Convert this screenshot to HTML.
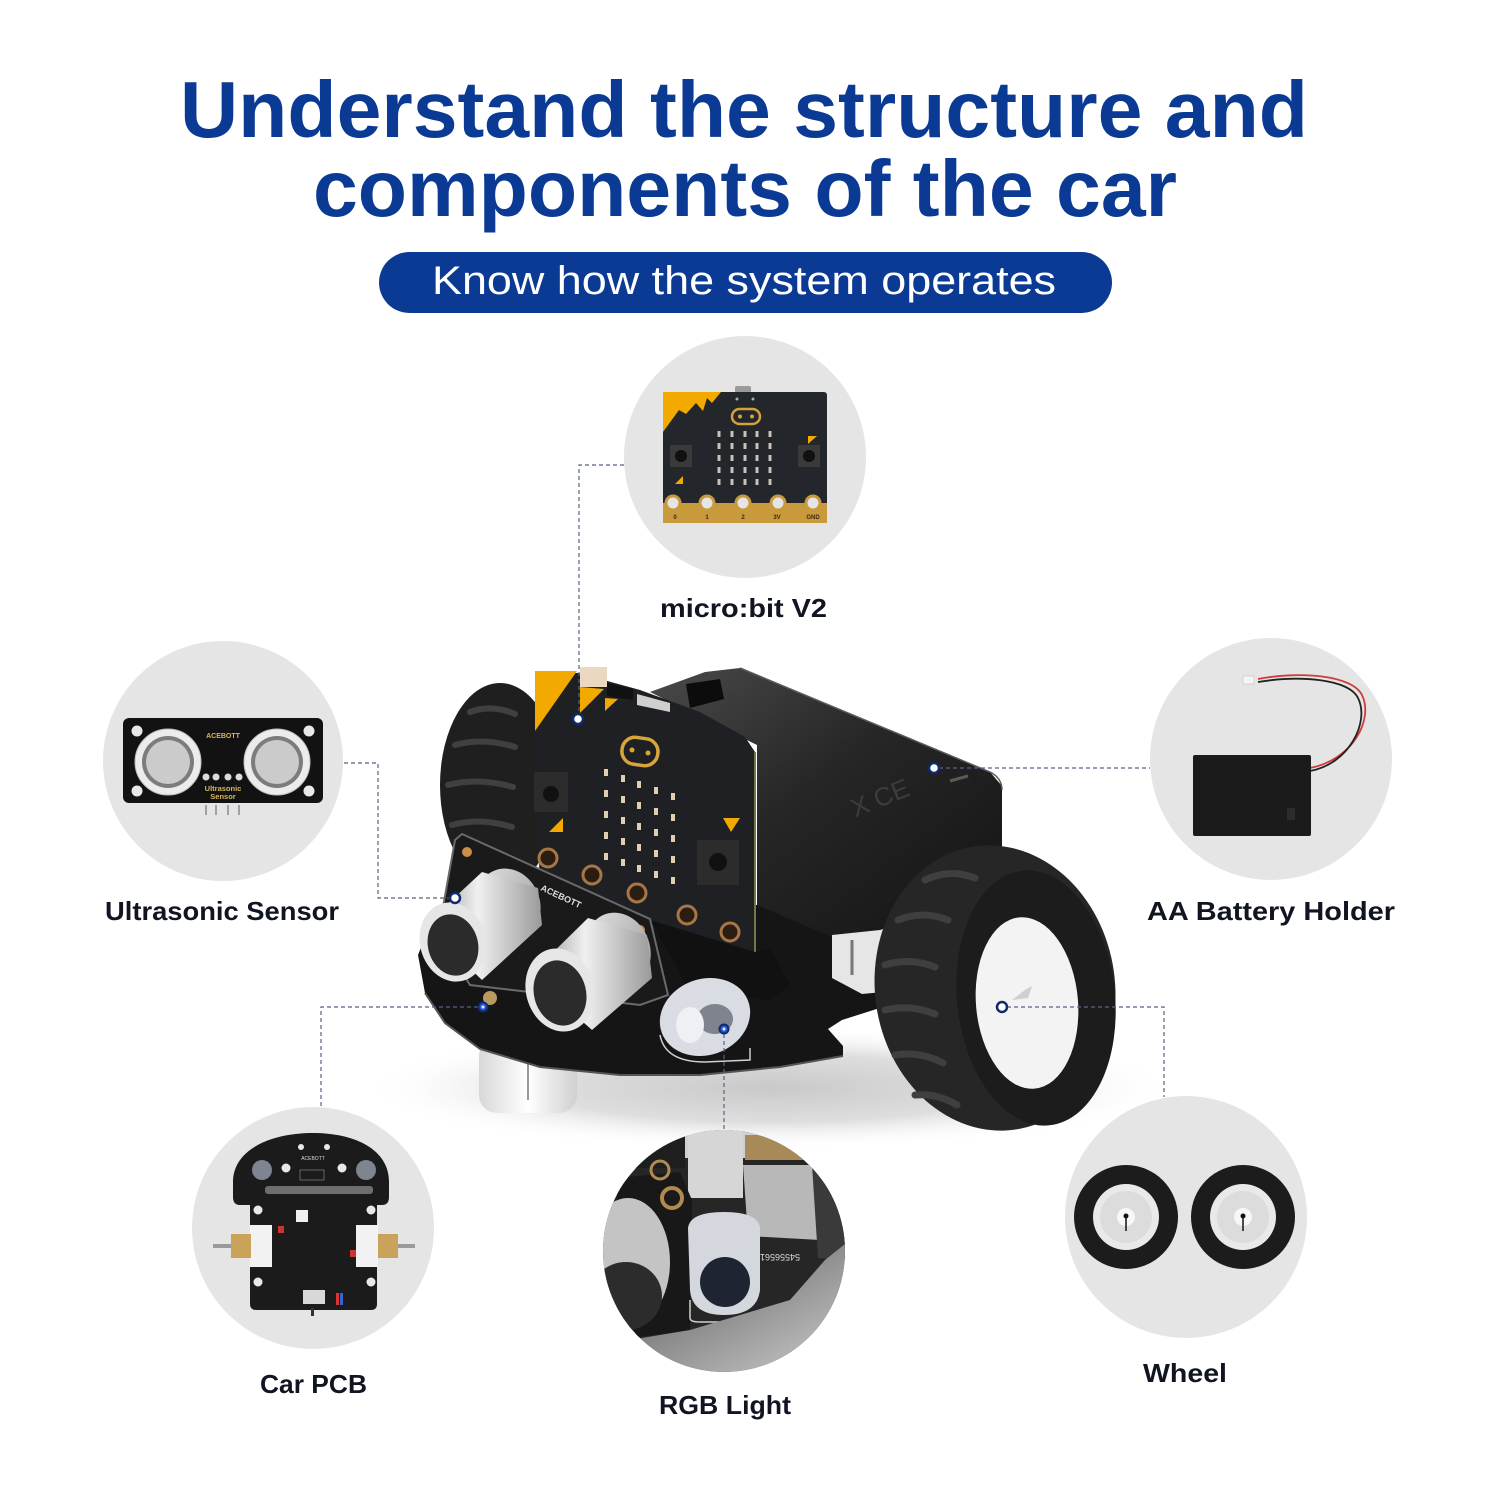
<!DOCTYPE html>
<html>
<head>
<meta charset="utf-8">
<style>
  html,body{margin:0;padding:0;background:#fff;}
  svg{display:block;}
  .lbl{font-family:"Liberation Sans",sans-serif;font-weight:bold;fill:#111522;}
</style>
</head>
<body>
<svg width="1500" height="1500" viewBox="0 0 1500 1500" xmlns="http://www.w3.org/2000/svg">
<defs>
  <radialGradient id="sh" cx="50%" cy="50%" r="50%">
    <stop offset="0" stop-color="#c9c9c9"/>
    <stop offset="0.55" stop-color="#dedede"/>
    <stop offset="1" stop-color="#ffffff" stop-opacity="0"/>
  </radialGradient>
  <linearGradient id="bat" x1="0" y1="0" x2="1" y2="1">
    <stop offset="0" stop-color="#4a4a4a"/>
    <stop offset="0.45" stop-color="#262626"/>
    <stop offset="1" stop-color="#141414"/>
  </linearGradient>
  <linearGradient id="silver" x1="0" y1="0" x2="1" y2="0">
    <stop offset="0" stop-color="#8a8a8a"/>
    <stop offset="0.45" stop-color="#f0f0f0"/>
    <stop offset="1" stop-color="#9a9a9a"/>
  </linearGradient>
  <linearGradient id="silver2" x1="0" y1="0" x2="1" y2="1">
    <stop offset="0" stop-color="#e8e8e8"/>
    <stop offset="1" stop-color="#9c9c9c"/>
  </linearGradient>
  <linearGradient id="caster" x1="0" y1="0" x2="1" y2="0">
    <stop offset="0" stop-color="#d8d8d8"/>
    <stop offset="0.5" stop-color="#ffffff"/>
    <stop offset="1" stop-color="#d0d0d0"/>
  </linearGradient>
  <linearGradient id="rgbbot" x1="0" y1="0" x2="1" y2="1">
    <stop offset="0" stop-color="#4a4a4a"/>
    <stop offset="1" stop-color="#d0d0d0"/>
  </linearGradient>
  <clipPath id="rgbclip"><circle cx="724" cy="1251" r="121"/></clipPath>
</defs>

<rect width="1500" height="1500" fill="#ffffff"/>

<!-- Title -->
<text x="180" y="137" textLength="1128" lengthAdjust="spacingAndGlyphs" font-family="'Liberation Sans',sans-serif" font-weight="bold" font-size="80" fill="#0b3a95">Understand the structure and</text>
<text x="313" y="216" textLength="864" lengthAdjust="spacingAndGlyphs" font-family="'Liberation Sans',sans-serif" font-weight="bold" font-size="80" fill="#0b3a95">components of the car</text>

<!-- Pill -->
<rect x="379" y="252" width="733" height="61" rx="30.5" fill="#0a3a93"/>
<text x="432" y="294" textLength="624" lengthAdjust="spacingAndGlyphs" font-family="'Liberation Sans',sans-serif" font-size="40" fill="#ffffff">Know how the system operates</text>

<!-- Main car shadow (under everything) -->
<ellipse cx="770" cy="1088" rx="410" ry="62" fill="url(#sh)"/>

<!-- Gray circles -->
<circle cx="745" cy="457" r="121" fill="#e5e5e5"/>
<circle cx="223" cy="761" r="120" fill="#e5e5e5"/>
<circle cx="1271" cy="759" r="121" fill="#e5e5e5"/>
<circle cx="313" cy="1228" r="121" fill="#e5e5e5"/>
<circle cx="1186" cy="1217" r="121" fill="#e5e5e5"/>

<!-- ===== micro:bit card ===== -->
<rect x="735" y="386" width="16" height="7" rx="2" fill="#9a9a9a"/>
<rect x="663" y="392" width="164" height="131" rx="3" fill="#23262b"/>
<polygon points="663,392 721,392 712,403 707,398 703,411 696,403 686,414 679,410 663,432" fill="#f2a900"/>
<rect x="732" y="409" width="28" height="15" rx="7.5" fill="none" stroke="#d4a23a" stroke-width="2.5"/>
<circle cx="740" cy="416.5" r="2" fill="#d4a23a"/><circle cx="752" cy="416.5" r="2" fill="#d4a23a"/>
<circle cx="737" cy="399" r="1.5" fill="#aaa"/><circle cx="753" cy="399" r="1.5" fill="#aaa"/>
<g fill="#c8c2b8">
  <rect x="717.5" y="431" width="3" height="6"/><rect x="730.5" y="431" width="3" height="6"/><rect x="743.5" y="431" width="3" height="6"/><rect x="755.5" y="431" width="3" height="6"/><rect x="768.5" y="431" width="3" height="6"/>
  <rect x="717.5" y="443" width="3" height="6"/><rect x="730.5" y="443" width="3" height="6"/><rect x="743.5" y="443" width="3" height="6"/><rect x="755.5" y="443" width="3" height="6"/><rect x="768.5" y="443" width="3" height="6"/>
  <rect x="717.5" y="455" width="3" height="6"/><rect x="730.5" y="455" width="3" height="6"/><rect x="743.5" y="455" width="3" height="6"/><rect x="755.5" y="455" width="3" height="6"/><rect x="768.5" y="455" width="3" height="6"/>
  <rect x="717.5" y="467" width="3" height="6"/><rect x="730.5" y="467" width="3" height="6"/><rect x="743.5" y="467" width="3" height="6"/><rect x="755.5" y="467" width="3" height="6"/><rect x="768.5" y="467" width="3" height="6"/>
  <rect x="717.5" y="479" width="3" height="6"/><rect x="730.5" y="479" width="3" height="6"/><rect x="743.5" y="479" width="3" height="6"/><rect x="755.5" y="479" width="3" height="6"/><rect x="768.5" y="479" width="3" height="6"/>
</g>
<rect x="670" y="445" width="22" height="22" fill="#3a3a3a"/><circle cx="681" cy="456" r="6" fill="#111"/>
<rect x="798" y="445" width="22" height="22" fill="#3a3a3a"/><circle cx="809" cy="456" r="6" fill="#111"/>
<polygon points="675,484 683,476 683,484" fill="#f2a900"/>
<polygon points="808,436 817,436 808,444" fill="#f2a900"/>
<rect x="663" y="503" width="164" height="20" fill="#c99a3c"/>
<g fill="#e5e5e5" stroke="#c99a3c" stroke-width="3">
  <circle cx="673" cy="503" r="7"/><circle cx="707" cy="503" r="7"/><circle cx="743" cy="503" r="7"/><circle cx="778" cy="503" r="7"/><circle cx="813" cy="503" r="7"/>
</g>
<g font-family="'Liberation Sans',sans-serif" font-size="6" font-weight="bold" fill="#3a2a10" text-anchor="middle">
  <text x="675" y="519">0</text><text x="707" y="519">1</text><text x="743" y="519">2</text><text x="777" y="519">3V</text><text x="813" y="519">GND</text>
</g>

<!-- ===== Ultrasonic card ===== -->
<rect x="123" y="718" width="200" height="85" rx="6" fill="#121212"/>
<g fill="#e8e8e8"><circle cx="137" cy="731" r="5.5"/><circle cx="309" cy="731" r="5.5"/><circle cx="137" cy="791" r="5.5"/><circle cx="309" cy="791" r="5.5"/></g>
<circle cx="168" cy="762" r="33" fill="#ececec" stroke="#bdbdbd" stroke-width="1"/>
<circle cx="168" cy="762" r="26" fill="#7c7c7c"/>
<circle cx="168" cy="762" r="22" fill="#cbcbcb"/>
<circle cx="277" cy="762" r="33" fill="#ececec" stroke="#bdbdbd" stroke-width="1"/>
<circle cx="277" cy="762" r="26" fill="#7c7c7c"/>
<circle cx="277" cy="762" r="22" fill="#cbcbcb"/>
<g fill="#dcdcdc"><circle cx="206" cy="777" r="3.5"/><circle cx="216" cy="777" r="3.5"/><circle cx="228" cy="777" r="3.5"/><circle cx="239" cy="777" r="3.5"/></g>
<g stroke="#8a8a8a" stroke-width="1.5"><line x1="206" y1="805" x2="206" y2="815"/><line x1="216" y1="805" x2="216" y2="815"/><line x1="228" y1="805" x2="228" y2="815"/><line x1="239" y1="805" x2="239" y2="815"/></g>
<g font-family="'Liberation Sans',sans-serif" font-weight="bold" fill="#d9b55a" text-anchor="middle">
  <text x="223" y="738" font-size="7">ACEBOTT</text>
  <text x="223" y="791" font-size="7.5">Ultrasonic</text>
  <text x="223" y="799" font-size="7.5">Sensor</text>
</g>

<!-- ===== Battery holder card ===== -->
<path d="M1310,768 C1352,760 1374,720 1362,695 C1352,675 1300,671 1258,679" fill="none" stroke="#d33a3a" stroke-width="1.8"/>
<path d="M1310,771 C1349,764 1370,722 1358,698 C1349,679 1300,675 1258,682" fill="none" stroke="#222" stroke-width="1.8"/>
<rect x="1243" y="676" width="11" height="8" fill="#f4f4f4" stroke="#bbb" stroke-width="0.5"/>
<rect x="1193" y="755" width="118" height="81" rx="2" fill="#1b1b1b"/>
<rect x="1287" y="808" width="8" height="12" fill="#2c2c2c"/>

<!-- ===== Car PCB card ===== -->
<line x1="213" y1="1246" x2="232" y2="1246" stroke="#9a9a9a" stroke-width="4"/>
<line x1="396" y1="1246" x2="415" y2="1246" stroke="#9a9a9a" stroke-width="4"/>
<path d="M250,1304 L250,1205 L240,1205 Q233,1205 233,1197 L233,1182 C233,1150 270,1133 313,1133 C356,1133 389,1150 389,1182 L389,1197 Q389,1205 382,1205 L377,1205 L377,1304 Q377,1310 371,1310 L256,1310 Q250,1310 250,1304 Z" fill="#1b1b1b"/>
<rect x="265" y="1186" width="108" height="8" rx="3" fill="#6e6e6e"/>
<circle cx="262" cy="1170" r="10" fill="#7e8490"/>
<circle cx="366" cy="1170" r="10" fill="#7e8490"/>
<g fill="#e8e8e8"><circle cx="286" cy="1168" r="4.5"/><circle cx="342" cy="1168" r="4.5"/><circle cx="258" cy="1210" r="4.5"/><circle cx="371" cy="1210" r="4.5"/><circle cx="258" cy="1282" r="4.5"/><circle cx="371" cy="1282" r="4.5"/><circle cx="301" cy="1147" r="3"/><circle cx="327" cy="1147" r="3"/></g>
<rect x="300" y="1170" width="24" height="10" fill="none" stroke="#666" stroke-width="1"/>
<rect x="296" y="1210" width="12" height="12" fill="#f0f0f0"/>
<rect x="250" y="1225" width="22" height="42" fill="#f2f2f2"/>
<rect x="231" y="1234" width="20" height="24" fill="#c9a35a"/>
<rect x="356" y="1225" width="22" height="42" fill="#f2f2f2"/>
<rect x="378" y="1234" width="20" height="24" fill="#c9a35a"/>
<rect x="278" y="1226" width="6" height="7" fill="#c33"/>
<rect x="350" y="1250" width="6" height="7" fill="#c33"/>
<rect x="303" y="1290" width="22" height="14" fill="#d8d8d8"/>
<rect x="336" y="1293" width="3" height="12" fill="#d33"/><rect x="340" y="1293" width="3" height="12" fill="#36c"/>
<rect x="311" y="1308" width="3" height="8" fill="#333"/>
<text x="313" y="1160" text-anchor="middle" font-family="'Liberation Sans',sans-serif" font-size="5" fill="#ddd">ACEBOTT</text>

<!-- ===== RGB Light card (photo-like) ===== -->
<g clip-path="url(#rgbclip)">
  <rect x="600" y="1128" width="250" height="250" fill="#262626"/>
  <rect x="600" y="1128" width="250" height="30" fill="#d0d0d0"/>
  <rect x="600" y="1128" width="85" height="40" fill="#1e1e1e"/>
  <rect x="688" y="1130" width="55" height="68" fill="#d6d6d6"/>
  <rect x="745" y="1135" width="60" height="25" fill="#a88a58"/>
  <polygon points="743,1165 812,1165 820,1240 748,1236" fill="#b8b8b8"/>
  <polygon points="812,1165 850,1165 850,1260 818,1258" fill="#3a3a3a"/>
  <polygon points="617,1178 680,1172 692,1200 690,1330 617,1340" fill="#181818"/>
  <circle cx="672" cy="1198" r="10" fill="#1a1a1a" stroke="#b08a50" stroke-width="4"/>
  <circle cx="660" cy="1170" r="9" fill="none" stroke="#b08a50" stroke-width="3"/>
  <ellipse cx="628" cy="1262" rx="42" ry="64" fill="#c4c4c4"/>
  <ellipse cx="626" cy="1296" rx="36" ry="34" fill="#2c2c2c"/>
  <path d="M688,1228 Q690,1212 724,1212 Q758,1212 760,1228 L760,1290 Q757,1315 724,1315 Q692,1315 690,1290 Z" fill="#d4d8de"/>
  <ellipse cx="725" cy="1282" rx="25" ry="25" fill="#1f2433"/>
  <path d="M690,1300 L690,1318 Q690,1322 700,1322 L770,1322" fill="none" stroke="#cfcfcf" stroke-width="1.5"/>
  <polygon points="600,1345 690,1330 790,1300 825,1260 850,1240 850,1380 600,1380" fill="url(#rgbbot)"/>
  <text x="780" y="1262" font-family="'Liberation Sans',sans-serif" font-size="9" fill="#ddd" transform="rotate(180 790 1258)">54556561</text>
</g>

<!-- ===== Wheel card ===== -->
<g>
  <circle cx="1126" cy="1217" r="52" fill="#1c1c1c"/>
  <circle cx="1126" cy="1217" r="33" fill="#e9e9e9"/>
  <circle cx="1126" cy="1217" r="26" fill="#dcdcdc"/>
  <circle cx="1126" cy="1217" r="9" fill="#f7f7f7"/>
  <circle cx="1126" cy="1216" r="2.5" fill="#111"/>
  <line x1="1126" y1="1217" x2="1126" y2="1231" stroke="#111" stroke-width="1.5"/>
  <circle cx="1243" cy="1217" r="52" fill="#1c1c1c"/>
  <circle cx="1243" cy="1217" r="33" fill="#e9e9e9"/>
  <circle cx="1243" cy="1217" r="26" fill="#dcdcdc"/>
  <circle cx="1243" cy="1217" r="9" fill="#f7f7f7"/>
  <circle cx="1243" cy="1216" r="2.5" fill="#111"/>
  <line x1="1243" y1="1217" x2="1243" y2="1231" stroke="#111" stroke-width="1.5"/>
</g>

<!-- ===== Main car ===== -->
<!-- caster -->
<rect x="479" y="1038" width="98" height="75" rx="18" fill="url(#caster)"/>
<line x1="528" y1="1050" x2="528" y2="1100" stroke="#9a9a9a" stroke-width="2"/>
<!-- left rear tire -->
<ellipse cx="500" cy="785" rx="60" ry="102" fill="#1f1f1f"/>
<g fill="none" stroke="#404040" stroke-width="6" stroke-linecap="round">
  <path d="M470,712 q22,-8 45,2"/>
  <path d="M455,745 q28,-8 60,2"/>
  <path d="M448,785 q30,-8 65,2"/>
  <path d="M452,825 q28,-8 60,2"/>
  <path d="M465,858 q22,-6 45,2"/>
</g>
<!-- base plate -->
<polygon points="418,955 430,925 470,905 760,905 900,945 905,1000 842,1020 828,1029 843,1046 843,1056 780,1067 700,1075 620,1075 540,1067 480,1049 445,1023 425,993" fill="#151515"/>
<path d="M425,993 L445,1023 480,1049 540,1067 620,1075 700,1075 780,1067 843,1056" fill="none" stroke="#555" stroke-width="2"/>
<!-- battery box -->
<polygon points="650,692 705,672 740,668 990,772 1002,786 1002,905 985,916 900,935 830,936 757,905 757,745" fill="url(#bat)"/>
<path d="M740,668 L990,772 Q1002,778 1002,790" fill="none" stroke="#5a5a5a" stroke-width="1.5"/>
<polygon points="686,684 720,679 724,699 690,708" fill="#0c0c0c"/>
<line x1="950" y1="781" x2="968" y2="776" stroke="#5a5a5a" stroke-width="3"/>
<text x="852" y="815" font-family="'Liberation Sans',sans-serif" font-size="26" fill="#3c3c3c" transform="rotate(-22 860 808)">X CE</text>
<!-- micro:bit board on car -->
<polygon points="535,671 578,673 640,690 700,712 745,737 755,752 755,952 540,905" fill="#1e2024"/>
<line x1="755" y1="752" x2="755" y2="952" stroke="#6b7a48" stroke-width="2"/>
<polygon points="535,671 577,671 535,731" fill="#f2a900"/>
<polygon points="580,687 604,689 580,713" fill="#f2a900"/>
<polygon points="605,698 618,699 605,711" fill="#f2a900"/>
<rect x="580" y="667" width="27" height="20" fill="#ead9c0"/>
<polygon points="607,683 633,689 633,700 607,696" fill="#111"/>
<polygon points="637,694 670,703 670,712 637,705" fill="#cfcfcf"/>
<rect x="622" y="738" width="36" height="27" rx="13" fill="none" stroke="#d9a53a" stroke-width="3.5" transform="rotate(8 640 751)"/>
<circle cx="632" cy="750" r="2.5" fill="#d9a53a"/><circle cx="648" cy="753" r="2.5" fill="#d9a53a"/>
<g fill="#e0cfae">
  <rect x="604" y="769" width="4" height="7"/><rect x="604" y="790" width="4" height="7"/><rect x="604" y="811" width="4" height="7"/><rect x="604" y="832" width="4" height="7"/><rect x="604" y="853" width="4" height="7"/>
  <rect x="621" y="775" width="4" height="7"/><rect x="621" y="796" width="4" height="7"/><rect x="621" y="817" width="4" height="7"/><rect x="621" y="838" width="4" height="7"/><rect x="621" y="859" width="4" height="7"/>
  <rect x="637" y="781" width="4" height="7"/><rect x="637" y="802" width="4" height="7"/><rect x="637" y="823" width="4" height="7"/><rect x="637" y="844" width="4" height="7"/><rect x="637" y="865" width="4" height="7"/>
  <rect x="654" y="787" width="4" height="7"/><rect x="654" y="808" width="4" height="7"/><rect x="654" y="829" width="4" height="7"/><rect x="654" y="850" width="4" height="7"/><rect x="654" y="871" width="4" height="7"/>
  <rect x="671" y="793" width="4" height="7"/><rect x="671" y="814" width="4" height="7"/><rect x="671" y="835" width="4" height="7"/><rect x="671" y="856" width="4" height="7"/><rect x="671" y="877" width="4" height="7"/>
</g>
<rect x="534" y="772" width="34" height="40" fill="#2c2c2c"/><circle cx="551" cy="794" r="8" fill="#111"/>
<rect x="697" y="840" width="42" height="45" fill="#2c2c2c"/><circle cx="718" cy="862" r="9" fill="#111"/>
<polygon points="549,832 563,832 563,818" fill="#f2a900"/>
<polygon points="723,818 740,818 731,832" fill="#f2a900"/>
<g fill="#2a1d12" stroke="#a87646" stroke-width="3">
  <circle cx="548" cy="858" r="9"/><circle cx="592" cy="875" r="9"/><circle cx="637" cy="893" r="9"/><circle cx="687" cy="915" r="9"/><circle cx="730" cy="932" r="9"/>
</g>
<!-- black block under board -->
<polygon points="650,920 755,952 770,948 790,985 770,1000 690,990" fill="#111"/>
<!-- white motor mount -->
<polygon points="832,935 880,930 905,922 905,990 862,994 832,978" fill="#e6e6e6"/>
<line x1="852" y1="940" x2="852" y2="975" stroke="#777" stroke-width="3"/>
<!-- ultrasonic front board -->
<polygon points="455,840 462,834 650,919 668,995 640,1005 470,985 438,935" fill="#1a1a1a" stroke="#6a6a6a" stroke-width="2"/>
<circle cx="467" cy="852" r="5" fill="#c9904a"/><circle cx="640" cy="930" r="5" fill="#c9904a"/>
<text x="540" y="890" font-family="'Liberation Sans',sans-serif" font-size="9" font-weight="bold" fill="#ddd" transform="rotate(25 540 890)">ACEBOTT</text>
<!-- cylinder 1 -->
<ellipse cx="508" cy="905" rx="32" ry="37" fill="url(#silver2)" transform="rotate(-20 508 905)"/>
<polygon points="425,925 482,872 538,888 542,925 482,980" fill="url(#silver)"/>
<ellipse cx="453" cy="942" rx="33" ry="40" fill="#e6e6e6" transform="rotate(-15 453 942)"/>
<ellipse cx="453" cy="945" rx="25" ry="31" fill="#2b2b2b" transform="rotate(-15 453 945)"/>
<!-- cylinder 2 -->
<ellipse cx="618" cy="950" rx="32" ry="38" fill="url(#silver2)" transform="rotate(-20 618 950)"/>
<polygon points="530,975 588,918 647,935 652,978 592,1030" fill="url(#silver)"/>
<ellipse cx="560" cy="990" rx="34" ry="42" fill="#e6e6e6" transform="rotate(-15 560 990)"/>
<ellipse cx="560" cy="993" rx="26" ry="33" fill="#2b2b2b" transform="rotate(-15 560 993)"/>
<!-- screw -->
<circle cx="490" cy="998" r="7" fill="#b89a60"/>
<!-- LED -->
<path d="M660,1035 Q665,1062 705,1062 L750,1060 L750,1048" fill="none" stroke="#d0d0d0" stroke-width="1.5"/>
<ellipse cx="705" cy="1017" rx="46" ry="38" fill="#d9dde3" transform="rotate(-20 705 1017)"/>
<ellipse cx="715" cy="1019" rx="18" ry="15" fill="#7e838d"/>
<ellipse cx="690" cy="1025" rx="14" ry="18" fill="#eef0f3"/>
<!-- right front wheel -->
<ellipse cx="995" cy="988" rx="120" ry="143" fill="#262626" transform="rotate(-8 995 988)"/>
<g fill="none" stroke="#3f3f3f" stroke-width="7" stroke-linecap="round">
  <path d="M925,880 q25,-12 50,-2"/>
  <path d="M898,920 q25,-10 50,0"/>
  <path d="M885,965 q25,-8 50,2"/>
  <path d="M885,1010 q25,-6 50,4"/>
  <path d="M895,1055 q25,-4 48,8"/>
  <path d="M915,1095 q22,-2 42,10"/>
</g>
<ellipse cx="1036" cy="998" rx="79" ry="128" fill="#1c1c1c" transform="rotate(-6 1036 998)"/>
<ellipse cx="1027" cy="1003" rx="51" ry="86" fill="#f3f3f3" transform="rotate(-5 1027 1003)"/>
<path d="M1012,1000 L1025,990 L1032,986 L1028,998 Z" fill="#cfcfcf"/>

<!-- ===== Connectors ===== -->
<g fill="none" stroke="#55657f" stroke-width="1.2" stroke-dasharray="4 3">
  <polyline points="624,465 579,465 579,714"/>
  <polyline points="344,763 378,763 378,898 450,898"/>
  <polyline points="939,768 1150,768"/>
  <polyline points="478,1007 321,1007 321,1109"/>
  <polyline points="724,1034 724,1131"/>
  <polyline points="1007,1007 1164,1007 1164,1097"/>
</g>
<g stroke="#0d2b6e" stroke-width="2.5" fill="#ffffff">
  <circle cx="578" cy="719" r="5"/>
  <circle cx="455" cy="898" r="5"/>
  <circle cx="934" cy="768" r="5"/>
  <circle cx="1002" cy="1007" r="5"/>
</g>
<g stroke="#0d2b6e" stroke-width="2" fill="#2a5bd7">
  <circle cx="483" cy="1007" r="4.5"/>
  <circle cx="724" cy="1029" r="4.5"/>
</g>
<g fill="#e6ecff"><circle cx="483" cy="1007" r="1.5"/><circle cx="724" cy="1029" r="1.5"/></g>

<!-- ===== Labels ===== -->
<text class="lbl" x="660" y="617" font-size="26" textLength="167" lengthAdjust="spacingAndGlyphs">micro:bit V2</text>
<text class="lbl" x="105" y="920" font-size="26" textLength="234" lengthAdjust="spacingAndGlyphs">Ultrasonic Sensor</text>
<text class="lbl" x="1147" y="920" font-size="26" textLength="248" lengthAdjust="spacingAndGlyphs">AA Battery Holder</text>
<text class="lbl" x="260" y="1393" font-size="26" textLength="107" lengthAdjust="spacingAndGlyphs">Car PCB</text>
<text class="lbl" x="659" y="1414" font-size="26" textLength="132" lengthAdjust="spacingAndGlyphs">RGB Light</text>
<text class="lbl" x="1143" y="1382" font-size="26" textLength="84" lengthAdjust="spacingAndGlyphs">Wheel</text>
</svg>
</body>
</html>
